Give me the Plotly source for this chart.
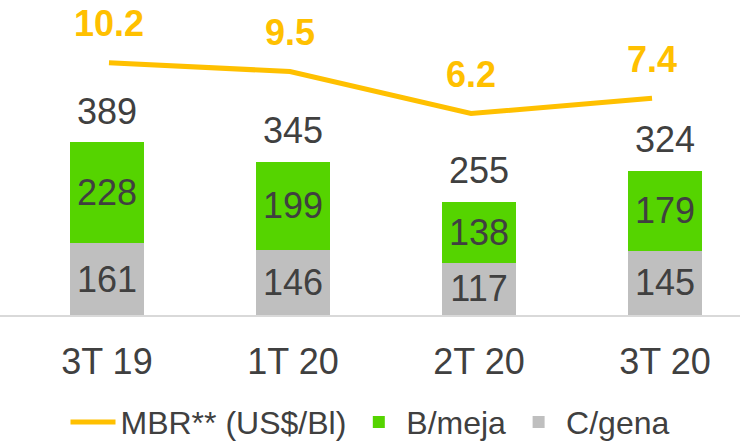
import plotly.graph_objects as go

categories = ["3T 19", "1T 20", "2T 20", "3T 20"]
cgena = [161, 146, 117, 145]
bmeja = [228, 199, 138, 179]
totals = [389, 345, 255, 324]
mbr = [10.2, 9.5, 6.2, 7.4]

FONT = "Arial, Liberation Sans, sans-serif"
TXT = "#404040"
GREEN = "#55D400"
GRAY = "#BFBFBF"
YELLOW = "#FFC000"

fig = go.Figure()

fig.add_trace(go.Bar(
    x=categories, y=cgena, name="C/gena", marker=dict(color=GRAY, line=dict(width=0)),
    width=0.4, text=cgena, texttemplate="%{text}", textposition="inside",
    insidetextanchor="middle", textangle=0, constraintext="none",
    textfont=dict(size=36, color=TXT, family=FONT), legendrank=3,
    hoverinfo="skip",
))
fig.add_trace(go.Bar(
    x=categories, y=bmeja, name="B/meja", marker=dict(color=GREEN, line=dict(width=0)),
    width=0.4, text=bmeja, texttemplate="%{text}", textposition="inside",
    insidetextanchor="middle", textangle=0, constraintext="none",
    textfont=dict(size=36, color=TXT, family=FONT), legendrank=2,
    hoverinfo="skip",
))
fig.add_trace(go.Scatter(
    x=categories, y=mbr, name="MBR** (US$/Bl)", mode="lines",
    line=dict(color=YELLOW, width=5), xaxis="x2", yaxis="y2", legendrank=1,
    hoverinfo="skip",
))

for c, t in zip(categories, totals):
    fig.add_annotation(x=c, y=t, xref="x", yref="y", text=str(t), showarrow=False,
                       yshift=31, font=dict(size=36, color=TXT, family=FONT))
for c, v in zip(categories, mbr):
    fig.add_annotation(x=c, y=v, xref="x2", yref="y2", text="<b>%s</b>" % v, showarrow=False,
                       yshift=39, font=dict(size=36, color=YELLOW, family=FONT))

fig.update_layout(
    width=740, height=445,
    margin=dict(l=0, r=0, t=0, b=130, autoexpand=False),
    paper_bgcolor="white", plot_bgcolor="white",
    barmode="stack", showlegend=True,
    font=dict(family=FONT, color=TXT),
    xaxis=dict(type="category", range=[-0.575, 3.403], showgrid=False, zeroline=False,
               showline=True, linecolor="#D9D9D9", linewidth=2, ticks="",
               tickfont=dict(size=36, color=TXT, family=FONT), ticklabelstandoff=14),
    yaxis=dict(range=[0, 708.3], visible=False, showgrid=False, zeroline=False),
    xaxis2=dict(type="category", overlaying="x", range=[-0.602, 3.486], visible=False),
    yaxis2=dict(overlaying="y", range=[-9.64, 15.125], visible=False),
    legend=dict(orientation="h", x=0.5, xanchor="center", y=-0.34, yanchor="middle",
                font=dict(size=32, color=TXT, family=FONT), traceorder="normal",
                itemwidth=45, bgcolor="rgba(0,0,0,0)"),
)

fig.write_html("out.html", config={"displayModeBar": False},
               post_script="document.body.style.margin='0';")
